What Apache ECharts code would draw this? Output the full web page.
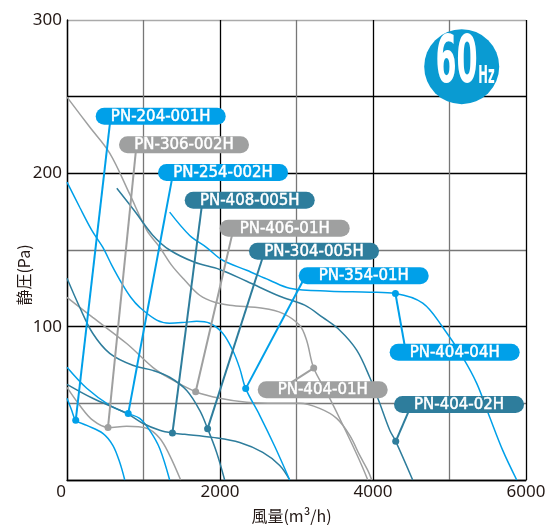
<!DOCTYPE html>
<html><head><meta charset="utf-8">
<script src="https://cdn.jsdelivr.net/npm/echarts@6/dist/echarts.min.js"></script>
<style>html,body{margin:0;padding:0;background:#fff}#c{width:548px;height:525px}</style>
</head><body><div id="c"></div>
<script>
// ---- data (x: 風量 m3/h, y: 静圧 Pa) ----
const labelNames = ['PN-204-001H','PN-306-002H','PN-254-002H','PN-408-005H','PN-406-01H','PN-304-005H','PN-354-01H','PN-404-04H','PN-404-01H','PN-404-02H'];
const c204_001H = [[0,53.3],[61,45.5],[114,39],[258,35.6],[468,30.4],[599,22.6],[689,11.5],[755,0]];
const c306_002H = [[0,60.4],[166,48.7],[336,39],[536,34.3],[780,35],[1042,33.7],[1212,27.2],[1342,16.1],[1486,0]];
const c254_002H = [[0,73.5],[258,59.8],[558,48.7],[800,43.3],[950,40.2],[1081,32.4],[1212,20.6],[1342,0]];
const c408_005H = [[0,62.4],[336,53.3],[780,43.5],[990,37],[1212,32.4],[1378,30.6],[1539,29.8],[1905,27.8],[2258,24.5],[2559,18],[2781,9.5],[2911,0]];
const c406_01H  = [[0,119.1],[336,106],[780,89],[1121,73.5],[1342,66.3],[1682,57.6],[1996,53.3],[2349,50.7],[2741,50],[3041,50],[3302,46.7],[3525,40.2],[3696,29.1],[3827,16],[3932,6.3],[3984,0]];
const c304_005H = [[0,131.6],[166,112.7],[336,95.7],[558,82.6],[859,74.8],[1121,71.5],[1342,67],[1565,58.4],[1735,45.4],[1838,33.5],[1956,18],[2061,0]];
const c354_01H  = [[0,194.3],[166,177.9],[323,163],[467,151.8],[586,140],[716,128.3],[833,119.2],[951,112.6],[1173,104.3],[1342,102.3],[1539,102.8],[1696,103.5],[1866,102.2],[2035,95.7],[2166,84.6],[2258,72.8],[2336,59.6],[2519,42.2],[2715,22],[2911,0]];
const c404_04H  = [[1342,174.7],[1604,159.5],[1826,151.6],[2035,143.3],[2349,136.8],[2649,130.3],[2911,125.1],[3434,123.1],[3957,122.5],[4293,121.6],[4650,115.3],[4912,99.6],[5173,80],[5356,63],[5526,40.9],[5696,19.3],[5879,0]];
const c404_01H  = [[0,249.7],[297,230.2],[558,213.2],[820,186.4],[1042,163],[1212,151.8],[1369,140],[1540,130.3],[1735,120.5],[1931,115.9],[2127,114],[2558,112],[2819,108.7],[3041,100.9],[3132,91.1],[3225,73],[3395,57.1],[3565,40.1],[3722,23.8],[3853,9.5],[3932,0]];
const c404_02H  = [[651,190.3],[886,175.3],[1121,159.7],[1342,150],[1669,142],[1996,137.3],[2349,129.6],[2781,119.8],[3107,114],[3343,106],[3565,97.7],[3787,84.7],[3957,67],[4088,50],[4219,32.4],[4297,25.2],[4519,0]];
const curves = [c204_001H,c306_002H,c254_002H,c408_005H,c406_01H,c304_005H,c354_01H,c404_04H,c404_01H,c404_02H];
// marker dots on curves
const dotX = [114, 536, 800, 1378, 1682, 1838, 2336, 4293, 3225, 4297];
const dotY = [38.9, 34.3, 43.3, 30.6, 57.6, 33.5, 59.6, 121.6, 73, 25.2];
// leader line end (inside label)
const leadX = [572, 908, 1388, 1772, 2178, 2584, 3120, 4430, 2780, 4505];
const leadY = [237.3, 218.4, 200.5, 182.5, 164.2, 149.2, 133.2, 83.3, 58.8, 49.3];
// label anchor (left-middle of pill)
const pillX = [375, 680, 1190, 1539, 1996, 2379, 3029, 4218, 2493, 4275];
const pillY = [237.3, 218.6, 200.6, 182.5, 164.2, 149.2, 133.2, 83.3, 58.8, 49.3];
const colorKey = ['b','g','b','t','g','t','b','b','g','t'];
const xTicks = [0, 2000, 4000, 6000];
const yTicks = [100, 200, 300];

const COL = {b:'#00a0e9', g:'#9fa0a0', t:'#2e7d9c'};
const chart = echarts.init(document.getElementById('c'), null, {renderer:'canvas'});
const series = [];
curves.forEach((d,i)=>{
  series.push({type:'line', name:labelNames[i], data:d, smooth:0.35, showSymbol:false, symbol:'none',
    lineStyle:{color:COL[colorKey[i]], width:1.5}, z:2, silent:true});
});
series.push({type:'lines', coordinateSystem:'cartesian2d', z:3, silent:true,
  lineStyle:{width:2, opacity:1},
  data: labelNames.map((n,i)=>({coords:[[dotX[i],dotY[i]],[leadX[i],leadY[i]]], lineStyle:{color:COL[colorKey[i]], width:2, opacity:1}}))});
series.push({type:'scatter', z:5, silent:true, symbolSize:7, itemStyle:{opacity:1},
  data: labelNames.map((n,i)=>({value:[dotX[i],dotY[i]], itemStyle:{color:COL[colorKey[i]], opacity:1}}))});
series.push({type:'scatter', z:6, silent:true, symbolSize:0, itemStyle:{opacity:1},
  data: labelNames.map((n,i)=>({value:[pillX[i],pillY[i]], name:n,
    label:{backgroundColor:COL[colorKey[i]]}})),
  label:{show:true, position:'right', distance:0, formatter:p=>'{p|'+p.name+'}', opacity:1,
    padding:0, borderRadius:9,
    rich:{p:{width:130, height:17, lineHeight:17, align:'center', color:'#fff',
      fontFamily:'DejaVu Sans', fontSize:15, textBorderColor:'#fff', textBorderWidth:0.5, padding:[1,0,0,0]}}}});

chart.setOption({
  animation:false,
  grid:{left:67, right:22, top:20, bottom:45, containLabel:false, outerBoundsMode:'none'},
  xAxis:{type:'value', min:0, max:6000, interval:1000,
    name:'風量(m³/h)', nameLocation:'middle', nameGap:28, nameMoveOverlap:false,
    nameTextStyle:{fontFamily:'Noto Sans CJK JP', fontSize:16, color:'#231815', padding:[0,10,0,0]},
    axisLine:{show:true, lineStyle:{color:'#000', width:1.3}}, axisTick:{show:false},
    splitLine:{show:true, lineStyle:{color:['#000','#777'], width:1.3}},
    axisLabel:{margin:4, fontFamily:'Noto Sans', fontSize:17, color:'#231815',
      formatter:v=> xTicks.indexOf(v)<0 ? '' : (v===0 ? '{z|0}' : String(v)),
      rich:{z:{fontFamily:'Noto Sans', fontSize:17, color:'#231815', padding:[0,12,0,0]}}}},
  yAxis:{type:'value', min:0, max:300, interval:50,
    name:'静圧(Pa)', nameLocation:'middle', nameGap:35, nameRotate:90, nameMoveOverlap:false,
    nameTextStyle:{fontFamily:'Noto Sans CJK JP', fontSize:16, color:'#231815', padding:[0,50,0,0]},
    axisLine:{show:true, lineStyle:{color:'#000', width:1.3}}, axisTick:{show:false},
    splitLine:{show:true, lineStyle:{color:['#000','#777','#000','#777','#000','#000','#aaa'], width:1.3}},
    axisLabel:{margin:5, fontFamily:'Noto Sans', fontSize:17, color:'#231815',
      formatter:v=> yTicks.indexOf(v)<0 ? '' : String(v)}},
  graphic:[
    {type:'circle', shape:{cx:461.7, cy:66.7, r:37.5}, style:{fill:'#0a9bd2'}, z:10},
    {type:'text', x:456.5, y:64.5, scaleX:0.46, z:11,
      style:{text:'60', font:'bold 66px "DejaVu Sans"', fill:'#fff', align:'center', verticalAlign:'middle'}},
    {type:'text', x:486.5, y:77, scaleX:0.48, z:11,
      style:{text:'Hz', font:'bold 24px "DejaVu Sans"', fill:'#fff', align:'center', verticalAlign:'middle'}}
  ],
  series: series
});
</script></body></html>
